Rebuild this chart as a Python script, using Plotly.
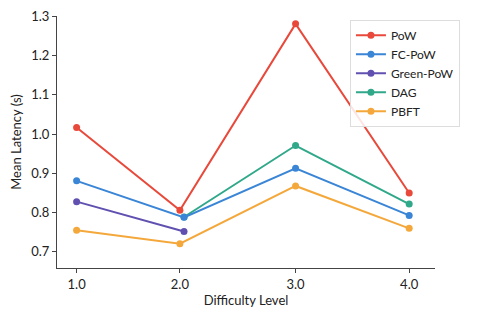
import plotly.graph_objects as go

# Data
series_names = ["PoW", "FC-PoW", "Green-PoW", "DAG", "PBFT"]
x_pow = [1.0, 2.0, 3.12, 4.22]
y_pow = [1.017, 0.806, 1.281, 0.850]
x_fc = [1.0, 2.04, 3.12, 4.22]
y_fc = [0.881, 0.788, 0.913, 0.793]
x_green = [1.0, 2.04]
y_green = [0.828, 0.752]
x_dag = [2.04, 3.12, 4.22]
y_dag = [0.789, 0.971, 0.822]
x_pbft = [1.0, 2.0, 3.12, 4.22]
y_pbft = [0.755, 0.721, 0.868, 0.760]
tick_vals = [1.0, 2.0, 3.12, 4.22]
tick_labels = ["1.0", "2.0", "3.0", "4.0"]
y_tick_vals = [0.7, 0.8, 0.9, 1.0, 1.1, 1.2, 1.3]
y_tick_labels = ["0.7", "0.8", "0.9", "1.0", "1.1", "1.2", "1.3"]

colors = {
    "PoW": "#E8493B",
    "FC-PoW": "#3A85D6",
    "Green-PoW": "#6150B0",
    "DAG": "#30A88A",
    "PBFT": "#F4A83B",
}

data = {
    "PoW": (x_pow, y_pow),
    "FC-PoW": (x_fc, y_fc),
    "Green-PoW": (x_green, y_green),
    "DAG": (x_dag, y_dag),
    "PBFT": (x_pbft, y_pbft),
}
draw_order = ["PoW", "DAG", "FC-PoW", "Green-PoW", "PBFT"]

fig = go.Figure()
for name in draw_order:
    xs, ys = data[name]
    fig.add_trace(go.Scatter(
        x=xs, y=ys, name=name, mode="lines+markers",
        line=dict(color=colors[name], width=2),
        marker=dict(color=colors[name], size=7),
        legendrank=series_names.index(name) + 1,
    ))

FONT = "Lato, DejaVu Sans"
axis_font = dict(family=FONT, size=13, color="#222")
fig.update_layout(
    width=480, height=320,
    paper_bgcolor="white", plot_bgcolor="white",
    margin=dict(l=57, r=45, t=16, b=52),
    font=dict(family=FONT, size=13, color="#222"),
    showlegend=True,
    legend=dict(
        x=0.775, y=0.985, xanchor="left", yanchor="top",
        bgcolor="rgba(255,255,255,0.85)", bordercolor="#DDDDDD", borderwidth=1,
        font=dict(family=FONT, size=12, color="#222"),
        tracegroupgap=0, itemwidth=30,
    ),
    xaxis=dict(
        range=[0.81, 4.47], tickvals=tick_vals, ticktext=tick_labels,
        showgrid=False, zeroline=False, showline=True, linecolor="#444", linewidth=1,
        ticks="outside", ticklen=4, tickcolor="#444", tickfont=axis_font,
        title=dict(text="Difficulty Level", font=axis_font, standoff=4),
        automargin=False,
    ),
    yaxis=dict(
        range=[0.659, 1.301], tickvals=y_tick_vals, ticktext=y_tick_labels,
        showgrid=False, zeroline=False, showline=True, linecolor="#444", linewidth=1,
        ticks="outside", ticklen=4, tickcolor="#444", tickfont=axis_font,
        title=dict(text="Mean Latency (s)", font=axis_font, standoff=6),
        automargin=False,
    ),
)

fig.write_html("out.html", config={"displayModeBar": False},
               post_script="document.body.style.margin='0';")
